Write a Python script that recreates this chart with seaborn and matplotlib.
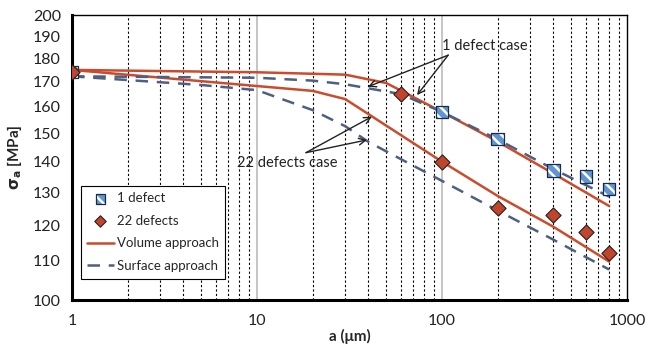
import matplotlib
matplotlib.use("Agg")
import matplotlib.pyplot as plt
import seaborn as sns
from matplotlib.ticker import FixedLocator, FixedFormatter, NullLocator, NullFormatter
from matplotlib.lines import Line2D
from matplotlib.legend_handler import HandlerTuple

# experimental results
a_one = [1, 100, 200, 400, 600, 800]
sig_one = [174, 158, 148, 137, 135, 131]
a_22 = [1, 60, 100, 200, 400, 600, 800]
sig_22 = [174, 165, 140, 125, 123, 118, 112]

# model predictions
a_vol_one = [1, 10, 30, 50, 100, 200, 400, 800]
vol_one = [175, 174, 173, 169.5, 158, 147, 136, 125.7]
a_surf_one = [1, 10, 20, 30, 60, 100, 200, 400, 800]
surf_one = [172.3, 171.7, 170.5, 169, 165, 158, 147.8, 137.5, 128.6]
a_vol_22 = [1, 20, 30, 100, 200, 400, 800]
vol_22 = [175, 166.3, 163, 140, 128.8, 119.5, 109.8]
a_surf_22 = [1, 5, 10, 20, 30, 40, 100, 200, 400, 800]
surf_22 = [172.3, 168.7, 166.6, 158.7, 152.6, 146.9, 133.6, 124.3, 115.8, 107.7]

y_ticks = list(range(100, 201, 10))
x_ticks = [1, 10, 100, 1000]
x_minor = [m * d for d in (1, 10, 100) for m in range(2, 10)]

RED = "#cc4b2c"
SLATE = "#4f5f7f"
DIAMOND = "#c1442c"
SQ_BLUE = "#5f95d3"

sns.set_theme(style="white")
plt.rcParams["font.family"] = ["Lato", "DejaVu Sans"]
plt.rcParams["hatch.linewidth"] = 1.8
plt.rcParams["mathtext.fontset"] = "dejavusans"
plt.rcParams["mathtext.default"] = "bf"

fig = plt.figure(figsize=(6.58, 3.46), dpi=100)
ax = fig.add_axes([0.1094, 0.1329, 0.8435, 0.8237])
ax.set_xscale("log")
ax.set_yscale("log")
ax.set_xlim(1, 1000)
ax.set_ylim(100, 200)

# grid: light solid at decades, dotted at minor positions
for xv in [10, 100]:
    ax.axvline(xv, color="#c0c0c0", lw=1.3, zorder=0)
for xv in x_minor:
    ax.axvline(xv, color="black", lw=0.8, ls=(0, (2, 2)), zorder=0)

sns.lineplot(x=a_vol_one, y=vol_one, ax=ax, color=RED, lw=1.8, sort=False, estimator=None, zorder=2)
sns.lineplot(x=a_vol_22, y=vol_22, ax=ax, color=RED, lw=1.8, sort=False, estimator=None, zorder=2)
sns.lineplot(x=a_surf_one, y=surf_one, ax=ax, color=SLATE, lw=1.8, sort=False, estimator=None, zorder=2)
ax.lines[-1].set_dashes((5, 3.5))
sns.lineplot(x=a_surf_22, y=surf_22, ax=ax, color=SLATE, lw=1.8, sort=False, estimator=None, zorder=2)
ax.lines[-1].set_dashes((5, 3.5))

# hatched squares: blue fill with white stripes, then a dark outline
sns.scatterplot(x=a_one, y=sig_one, ax=ax, marker="s", s=80, color=SQ_BLUE,
                edgecolor="white", linewidth=0, hatch="\\\\\\", zorder=5)
sq_fill = ax.collections[-1]
sns.scatterplot(x=a_one, y=sig_one, ax=ax, marker="s", s=80, facecolor="none",
                edgecolor="#1c2b45", linewidth=0.9, zorder=6)
sq_edge = ax.collections[-1]
sns.scatterplot(x=a_22, y=sig_22, ax=ax, marker="D", s=60, color=DIAMOND,
                edgecolor="#222222", linewidth=0.8, zorder=7)
dia = ax.collections[-1]

# annotations
ax.text(170, 185.4, "1 defect case", ha="center", va="center", fontsize=10.5, color="#222222")
for tgt in [(39.8, 168.0), (73.3, 164.6)]:
    ax.annotate("", xy=tgt, xytext=(108, 181.4),
                arrowprops=dict(arrowstyle="->", color="#222222", lw=1, shrinkA=0, shrinkB=0))
ax.text(14.5, 139.5, "22 defects case", ha="center", va="center", fontsize=10.5, color="#222222")
for tgt in [(41.8, 156.2), (39.3, 147.6)]:
    ax.annotate("", xy=tgt, xytext=(18.4, 143.1),
                arrowprops=dict(arrowstyle="->", color="#222222", lw=1, shrinkA=0, shrinkB=0))

# axes styling
ax.yaxis.set_major_locator(FixedLocator(y_ticks))
ax.yaxis.set_major_formatter(FixedFormatter([str(v) for v in y_ticks]))
ax.yaxis.set_minor_locator(NullLocator())
ax.yaxis.set_minor_formatter(NullFormatter())
ax.xaxis.set_major_locator(FixedLocator(x_ticks))
ax.xaxis.set_major_formatter(FixedFormatter([str(v) for v in x_ticks]))
ax.xaxis.set_minor_locator(NullLocator())
ax.tick_params(axis="both", which="major", direction="inout", length=8, width=1.8,
               colors="black", labelsize=11.5, labelcolor="#222222", pad=4)
ax.tick_params(axis="x", pad=6)
for side in ["left", "bottom"]:
    ax.spines[side].set_linewidth(2.2)
    ax.spines[side].set_color("black")
for side in ["top", "right"]:
    ax.spines[side].set_linewidth(1)
    ax.spines[side].set_color("black")
ax.set_xlabel("a (μm)", fontsize=11, fontweight="bold", labelpad=1)
ax.set_ylabel(r"$\sigma_a$ [MPa]", fontsize=11, fontweight="bold", labelpad=6)

handles = [
    (sq_fill, sq_edge),
    dia,
    Line2D([], [], color=RED, lw=1.8),
    Line2D([], [], color=SLATE, lw=1.8, dashes=(5, 3.5)),
]
labels = ["1 defect", "22 defects", "Volume approach", "Surface approach"]
leg = ax.legend(handles, labels, loc="lower left", bbox_to_anchor=(0.0155, 0.075),
                borderaxespad=0, fontsize=9.5, frameon=True, fancybox=False, framealpha=1,
                edgecolor="black", labelspacing=0.8, handlelength=2.0,
                handletextpad=0.25, borderpad=0.5, markerscale=0.75,
                handler_map={tuple: HandlerTuple(ndivide=1, pad=0)})
leg.get_frame().set_linewidth(0.8)

fig.savefig("out.png", dpi=100)
